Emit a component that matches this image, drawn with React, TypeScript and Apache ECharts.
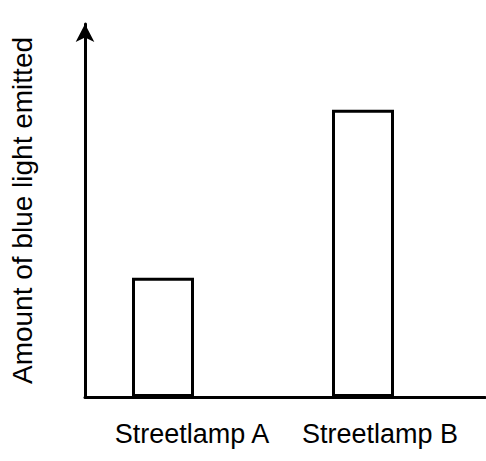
import React, { useEffect, useRef } from "react";
import * as echarts from "echarts";

const categories = ["Streetlamp A", "Streetlamp B"];
const blueLight = [32, 77];
const yAxisTitle = "Amount of blue light emitted";

export default function App() {
  const ref = useRef<HTMLDivElement>(null);
  useEffect(() => {
    if (!ref.current) return;
    const chart = echarts.init(ref.current, null, { renderer: "svg" });
    const font = "'Liberation Sans', Arial, sans-serif";
    chart.setOption({
      animation: false,
      backgroundColor: "#ffffff",
      grid: [
        { left: 84, right: 1, top: 24, bottom: 64 },
        { left: 63, width: 400, top: 24, bottom: 64 },
      ],
      xAxis: [
        {
          type: "category",
          gridIndex: 0,
          data: categories,
          axisLine: { show: true, lineStyle: { color: "#000", width: 3 } },
          axisTick: { show: false },
          axisLabel: {
            color: "#000",
            fontFamily: font,
            fontSize: 27,
            margin: 23,
            interval: 0,
            formatter: (v: string, i: number) => (i === 0 ? `{a|${v}}` : `{b|${v}}`),
            rich: {
              a: { fontFamily: font, fontSize: 27, color: "#000", padding: [0, 0, 0, 14] },
              b: { fontFamily: font, fontSize: 27, color: "#000", padding: [0, 10, 0, 0] },
            },
          },
          splitLine: { show: false },
        },
        {
          type: "category",
          gridIndex: 1,
          data: categories,
          show: false,
        },
      ],
      yAxis: [
        {
          type: "value",
          gridIndex: 0,
          min: 0,
          max: 100,
          name: yAxisTitle,
          nameLocation: "middle",
          nameRotate: 90,
          nameGap: 49,
          nameTextStyle: { color: "#000", fontFamily: font, fontSize: 28 },
          axisLine: {
            show: true,
            symbol: ["none", "arrow"],
            symbolSize: [14, 18],
            lineStyle: { color: "#000", width: 3 },
          },
          axisTick: { show: false },
          axisLabel: { show: false },
          splitLine: { show: false },
        },
        { type: "value", gridIndex: 1, min: 0, max: 100, show: false },
      ],
      series: [
        {
          type: "bar",
          xAxisIndex: 1,
          yAxisIndex: 1,
          data: blueLight,
          barWidth: 62,
          itemStyle: { color: "#ffffff", borderColor: "#000", borderWidth: 3 },
        },
      ],
    });
    return () => chart.dispose();
  }, []);
  return <div ref={ref} style={{ width: 486, height: 461, position: "absolute", left: 0, top: 0 }} />;
}
